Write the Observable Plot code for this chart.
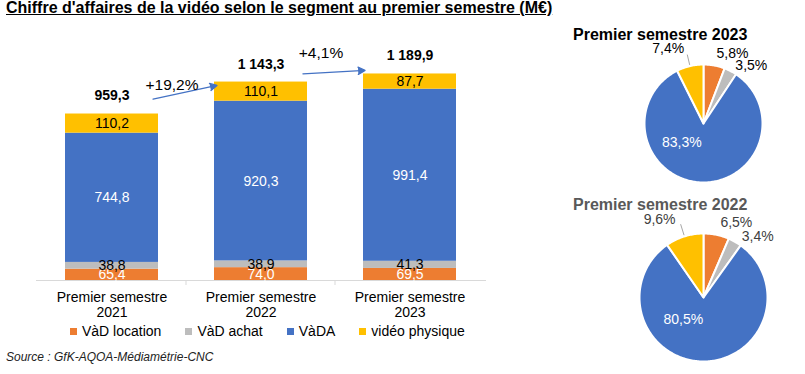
<!DOCTYPE html>
<html><head><meta charset="utf-8">
<script src="https://cdn.jsdelivr.net/npm/d3@7"></script>
<script src="https://cdn.jsdelivr.net/npm/@observablehq/plot@0.6"></script>
<style>
body{margin:0;width:805px;height:374px;position:relative;overflow:hidden;background:#fff;font-family:"Liberation Sans",Arial,sans-serif;color:#000}
.abs{position:absolute}
#title{left:6px;top:-1px;font-weight:bold;font-size:16px;line-height:18px;text-decoration:underline;white-space:nowrap}
#legend{left:70px;top:323px;display:flex;gap:24px;font-size:14px;line-height:16px;white-space:nowrap}
#legend .it{display:flex;align-items:center}
#legend .sw{width:7px;height:7px;margin-right:5px;display:inline-block}
#source{left:6px;top:350px;font-style:italic;font-size:12px;line-height:14px;color:#222}
.ptitle{font-weight:bold;font-size:16px;line-height:18px;white-space:nowrap}
</style></head>
<body>
<div id="bars" class="abs" style="left:0;top:0"></div>
<div id="pie2023" class="abs" style="left:560px;top:20px"></div>
<div id="pie2022" class="abs" style="left:560px;top:185px"></div>
<div id="title" class="abs">Chiffre d'affaires de la vidéo selon le segment au premier semestre (M€)</div>
<div class="abs ptitle" style="left:573px;top:26px;color:#000">Premier semestre 2023</div>
<div class="abs ptitle" style="left:573px;top:196px;color:#595959">Premier semestre 2022</div>
<div id="legend" class="abs"></div>
<div id="source" class="abs">Source : GfK-AQOA-Médiamétrie-CNC</div>
<script>
// ---- data ----
const years = ["2021", "2022", "2023"];
const tickLabels = ["Premier semestre\n2021", "Premier semestre\n2022", "Premier semestre\n2023"];
const segments = ["VàD location", "VàD achat", "VàDA", "vidéo physique"];
const segColors = ["#ED7D31", "#BDBDBD", "#4472C4", "#FFC000"];
const vadLocation = [65.4, 74.0, 69.5];
const vadAchat = [38.8, 38.9, 41.3];
const vada = [744.8, 920.3, 991.4];
const videoPhysique = [110.2, 110.1, 87.7];
const totals = [959.3, 1143.3, 1189.9];
const whiteLabelSegments = ["VàD location", "VàDA"];

const series = [vadLocation, vadAchat, vada, videoPhysique];
const fr = d3.formatLocale({decimal: ",", thousands: "\u00a0", grouping: [3], currency: ["", "€"]});
const fmt = fr.format(",.1f");

const rows = [];
years.forEach((y, i) => segments.forEach((s, j) => rows.push({year: y, seg: s, value: series[j][i]})));
const totalRows = years.map((y, i) => ({year: y, total: totals[i]}));
const growth = years.slice(1).map((y, i) => ({from: years[i], to: y, fromTotal: totals[i], toTotal: totals[i + 1], pct: (totals[i + 1] / totals[i] - 1) * 100}));

const FONT = "Liberation Sans, Arial, sans-serif";

const bars = Plot.plot({
  width: 490, height: 330,
  marginLeft: 36, marginRight: 4, marginTop: 37, marginBottom: 50,
  style: {fontFamily: FONT, fontSize: "14px", background: "transparent", overflow: "visible", color: "#000"},
  x: {domain: years, paddingInner: 0.373, paddingOuter: 0.1867},
  y: {domain: [0, 1400], axis: null},
  color: {domain: segments, range: segColors},
  marks: [
    Plot.barY(rows, {x: "year", y: "value", fill: "seg"}),
    Plot.ruleY([0], {stroke: "#d9d9d9", strokeWidth: 1}),
    Plot.ruleX(years.slice(1), {x: d => d, y1: 0, y2: 0, insetBottom: -5, dx: -75, stroke: "#d9d9d9"}),
    Plot.text(rows, Plot.stackY({x: "year", y: "value", text: d => whiteLabelSegments.includes(d.seg) ? fmt(d.value) : null, fill: "white", fontSize: 14})),
    Plot.text(rows, Plot.stackY({x: "year", y: "value", text: d => whiteLabelSegments.includes(d.seg) ? null : fmt(d.value), fill: "#000", fontSize: 14})),
    Plot.text(totalRows, {x: "year", y: "total", text: d => fmt(d.total), dy: -18, fontWeight: "bold", fontSize: 14, fill: "#000"}),
    Plot.arrow(growth, {x1: "from", x2: "to", y1: "fromTotal", y2: "toTotal", dy: -6, insetStart: 42, insetEnd: 45, stroke: "#4472C4", fill: "#4472C4", strokeWidth: 1.3, headLength: 9, headAngle: 55}),
    Plot.text(growth, {x: "from", y: "fromTotal", text: d => "+" + fmt(d.pct) + "%", dx: 60, dy: -29, fontSize: 15.5, fill: "#000"}),
    Plot.axisX({tickSize: 0, tickPadding: 11, fontSize: 14, lineHeight: 1.07, tickFormat: d => tickLabels[years.indexOf(d)]})
  ]
});
document.getElementById("bars").append(bars);

// legend
const lg = document.getElementById("legend");
segments.forEach((s, i) => {
  const it = document.createElement("div"); it.className = "it";
  const sw = document.createElement("span"); sw.className = "sw"; sw.style.background = segColors[i];
  it.append(sw, document.createTextNode(s));
  lg.append(it);
});

// pies
const labelShift = 12 * Math.PI / 180;
function drawPie(el, yearIdx, w, h, cx, cy, r, labelColor) {
  const vals = series.map(s => s[yearIdx]);
  const sum = d3.sum(vals);
  const arcs = d3.pie().sort(null).value(d => d.v)(segments.map((s, i) => ({seg: s, v: vals[i]})));
  const pts = [];
  const labels = [];
  arcs.forEach(a => {
    const seg = a.data.seg;
    pts.push({seg, x: 0, y: 0});
    const n = Math.max(2, Math.ceil((a.endAngle - a.startAngle) / (Math.PI / 180)));
    for (let k = 0; k <= n; k++) {
      const t = a.startAngle + (a.endAngle - a.startAngle) * k / n;
      pts.push({seg, x: Math.sin(t), y: Math.cos(t)});
    }
    const m = (a.startAngle + a.endAngle) / 2;
    const share = a.data.v / sum;
    const inside = share > 0.5;
    const right = Math.sin(m) >= 0;
    const la = inside ? m : (right ? m + labelShift : m - labelShift);
    const rr = inside ? 0.45 : (right ? 1.28 : 1.4);
    labels.push({seg, m, inside, right, x: rr * Math.sin(la), y: rr * Math.cos(la), text: fr.format(".1f")(share * 100) + "%"});
  });
  const leaders = labels.filter(d => !d.inside && !d.right).map(d => ({x1: 1.02 * Math.sin(d.m), y1: 1.02 * Math.cos(d.m), x2: 1.2 * Math.sin(d.m), y2: 1.2 * Math.cos(d.m)}));
  const p = Plot.plot({
    width: w, height: h,
    style: {fontFamily: FONT, fontSize: "14px", background: "transparent", overflow: "visible"},
    x: {domain: [-1, 1], range: [cx - r, cx + r], axis: null},
    y: {domain: [-1, 1], range: [cy + r, cy - r], axis: null},
    color: {domain: segments, range: segColors},
    marks: [
      Plot.line(pts, {x: "x", y: "y", z: "seg", fill: "seg", stroke: "white", strokeWidth: 2, curve: "linear-closed"}),
      Plot.link(leaders, {x1: "x1", y1: "y1", x2: "x2", y2: "y2", stroke: "#a6a6a6", strokeWidth: 1}),
      Plot.text(labels.filter(d => d.inside), {x: "x", y: "y", text: "text", fill: "white", fontSize: 14, dx: -20, dy: -7}),
      Plot.text(labels.filter(d => !d.inside), {x: "x", y: "y", text: "text", fill: labelColor, fontSize: 14})
    ]
  });
  document.getElementById(el).append(p);
}
drawPie("pie2023", 2, 245, 170, 143, 103, 59, "#000");
drawPie("pie2022", 1, 245, 189, 143, 112, 64, "#404040");
</script>
</body></html>
